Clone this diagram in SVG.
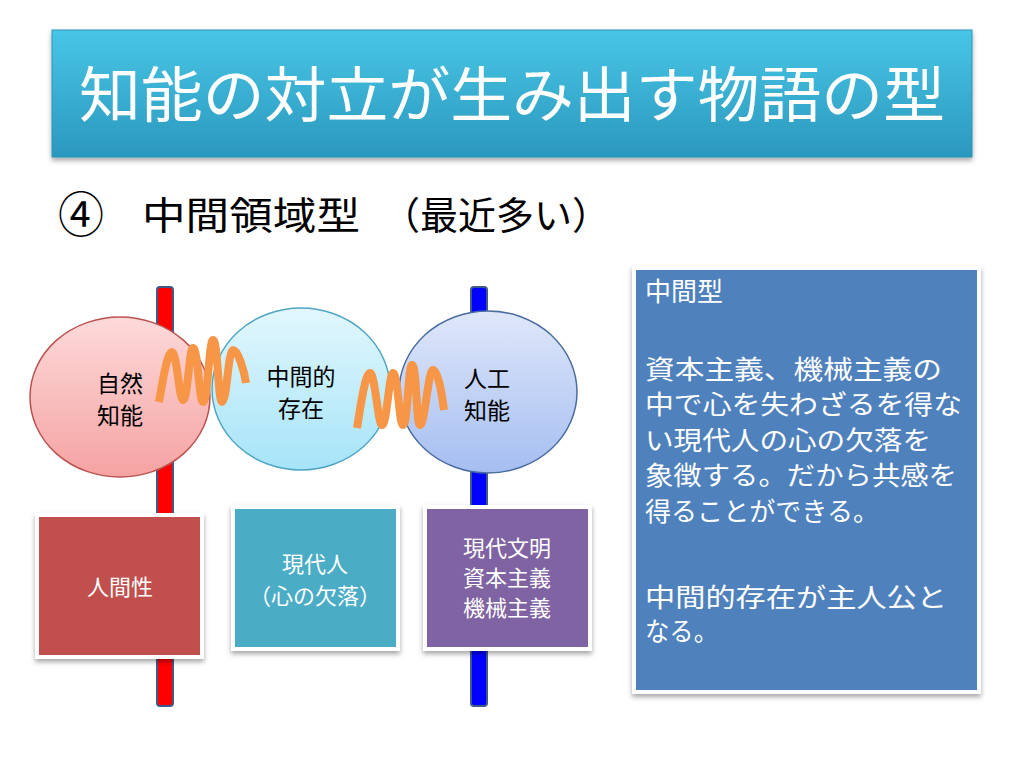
<svg xmlns="http://www.w3.org/2000/svg" width="1024" height="768" viewBox="0 0 1024 768">
<defs>
<linearGradient id="gTitle" x1="0" y1="0" x2="0" y2="1"><stop offset="0" stop-color="#48C6E6"/><stop offset="1" stop-color="#2B98BD"/></linearGradient>
<linearGradient id="gPink" x1="0" y1="0" x2="0" y2="1"><stop offset="0" stop-color="#FDDADA"/><stop offset="1" stop-color="#F6A2A2"/></linearGradient>
<linearGradient id="gCyan" x1="0" y1="0" x2="0" y2="1"><stop offset="0" stop-color="#E2F7FD"/><stop offset="1" stop-color="#A6E4F8"/></linearGradient>
<linearGradient id="gBlue" x1="0" y1="0" x2="0" y2="1"><stop offset="0" stop-color="#DFE7FA"/><stop offset="1" stop-color="#A5BEF1"/></linearGradient>
<filter id="sh" x="-10%" y="-10%" width="120%" height="125%"><feDropShadow dx="0" dy="3" stdDeviation="2.5" flood-color="#000" flood-opacity="0.35"/></filter>
</defs>
<style>
.jp{font-family:"Noto Sans CJK JP","Noto Sans CJK SC",sans-serif}
.ct{font-size:23px;fill:#000;text-anchor:middle}
.bt{font-size:22px;fill:#fff;text-anchor:middle}
.pt{font-size:26px;fill:#fff}
.bar{stroke:#3F5A8A;stroke-width:2}
.wave{fill:none;stroke:#F79646;stroke-width:8;stroke-linecap:butt;stroke-linejoin:round}
.card{stroke:#fff;stroke-width:4;filter:url(#sh)}
</style>
<g id="title">
<rect x="52" y="30" width="920" height="127" style="fill:url(#gTitle)" stroke="#2A93B8" stroke-width="1" filter="url(#sh)"/>
<text class="jp" x="512" y="117" font-size="60" fill="#fff" text-anchor="middle" textLength="866" lengthAdjust="spacingAndGlyphs">知能の対立が生み出す物語の型</text>
</g>
<g id="subtitle">
<text class="jp" y="229" font-size="38" fill="#000"><tspan x="58" y="232" font-size="48" textLength="46" lengthAdjust="spacingAndGlyphs">④</tspan><tspan x="142" y="229" textLength="218" lengthAdjust="spacingAndGlyphs">中間領域型</tspan><tspan x="382" textLength="228" lengthAdjust="spacingAndGlyphs">（最近多い）</tspan></text>
</g>
<g id="bars">
<rect class="bar" x="157" y="287" width="16" height="419" rx="3" fill="#FF0000"/>
<rect class="bar" x="471" y="287" width="16" height="419" rx="3" fill="#0000FF"/>
</g>
<g id="node-natural">
<ellipse cx="120" cy="397" rx="90" ry="80" fill="url(#gPink)" stroke="#B9524F" stroke-width="1.5"/>
<text class="jp ct" x="120" y="392">自然</text>
<text class="jp ct" x="120" y="424">知能</text>
</g>
<g id="node-middle">
<ellipse cx="301" cy="389" rx="89" ry="81" fill="url(#gCyan)" stroke="#4FA6C4" stroke-width="1.5"/>
<text class="jp ct" x="301" y="385">中間的</text>
<text class="jp ct" x="301" y="417">存在</text>
</g>
<g id="node-ai">
<ellipse cx="488" cy="392" rx="89" ry="81" fill="url(#gBlue)" stroke="#4A6C9E" stroke-width="1.5"/>
<text class="jp ct" x="487" y="387">人工</text>
<text class="jp ct" x="487" y="419">知能</text>
</g>
<g id="connectors">
<path class="wave" d="M159,402 C162,385 167,352 172,352 C177,352 179,400 183,400 C188,400 189,348 193,348 C198,348 199,402 203,402 C208,402 209,340 213,340 C218,340 218,402 222,402 C227,402 228,350 233,350 C238,350 244,370 246,383"/>
<path class="wave" d="M357,428 C360,410 365,373 370,373 C375,373 378,425 382,425 C387,425 389,373 393,373 C398,373 399,425 403,425 C408,425 408,365 412,365 C417,365 416,425 420,425 C425,425 428,370 433,370 C438,370 442,395 444,410"/>
</g>
<g id="box-human">
<rect class="card" x="37" y="515" width="165" height="142" fill="#C0504D"/>
<text class="jp bt" x="120" y="595">人間性</text>
</g>
<g id="box-modern">
<rect class="card" x="233" y="507" width="165" height="142" fill="#4BACC6"/>
<text class="jp bt" x="315" y="572">現代人</text>
<text class="jp bt" x="315" y="604">（心の欠落）</text>
</g>
<g id="box-civ">
<rect class="card" x="425" y="507" width="165" height="142" fill="#8064A2"/>
<text class="jp bt" x="507" y="556">現代文明</text>
<text class="jp bt" x="507" y="586">資本主義</text>
<text class="jp bt" x="507" y="616">機械主義</text>
</g>
<g id="panel">
<rect class="card" x="634" y="268" width="345" height="424" fill="#4F81BD"/>
<text class="jp pt" x="645" y="301">中間型</text>
<text class="jp pt" x="645" y="379" textLength="297" lengthAdjust="spacingAndGlyphs">資本主義、機械主義の</text>
<text class="jp pt" x="645" y="414" textLength="317" lengthAdjust="spacingAndGlyphs">中で心を失わざるを得な</text>
<text class="jp pt" x="645" y="450" textLength="286" lengthAdjust="spacingAndGlyphs">い現代人の心の欠落を</text>
<text class="jp pt" x="645" y="485" textLength="312" lengthAdjust="spacingAndGlyphs">象徴する。だから共感を</text>
<text class="jp pt" x="645" y="521" textLength="234" lengthAdjust="spacingAndGlyphs">得ることができる。</text>
<text class="jp pt" x="645" y="607" textLength="302" lengthAdjust="spacingAndGlyphs">中間的存在が主人公と</text>
<text class="jp pt" x="645" y="641" textLength="73" lengthAdjust="spacingAndGlyphs">なる。</text>
</g>
</svg>
